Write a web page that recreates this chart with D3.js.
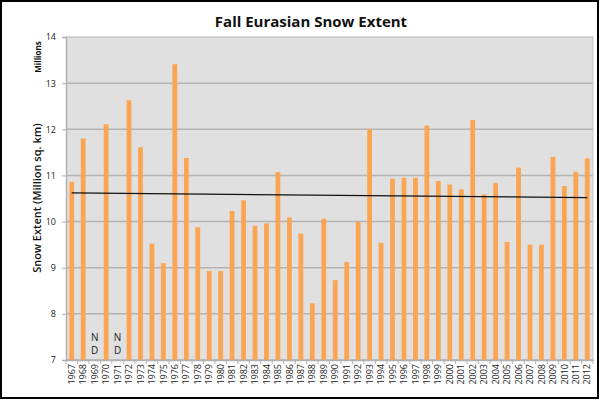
<!DOCTYPE html>
<html><head><meta charset="utf-8">
<script src="https://cdn.jsdelivr.net/npm/d3@7"></script>
<style>body{margin:0;background:#fff;} svg{display:block;}</style>
</head><body>
<svg id="c" width="600" height="400"></svg>
<script>
const years = ["1967","1968","1969","1970","1971","1972","1973","1974","1975","1976","1977","1978","1979","1980","1981","1982","1983","1984","1985","1986","1987","1988","1989","1990","1991","1992","1993","1994","1995","1996","1997","1998","1999","2000","2001","2002","2003","2004","2005","2006","2007","2008","2009","2010","2011","2012"];
const extent = [10.86,11.80,null,12.11,null,12.63,11.61,9.52,9.10,13.41,11.38,9.88,8.93,8.93,10.23,10.46,9.91,9.96,11.07,10.09,9.74,8.23,10.06,8.73,9.12,9.99,12.00,9.54,10.93,10.95,10.95,12.08,10.88,10.80,10.70,12.20,10.59,10.84,9.56,11.17,9.50,9.50,11.40,10.77,11.08,11.37];
const yTicks = [7,8,9,10,11,12,13,14];
const trendYears = ["1967","2012"];
const trendValues = [10.62,10.52];
const noDataLabel = ["N","D"];

const svg = d3.select("#c");
const font = "'Open Sans', 'DejaVu Sans', sans-serif";
const L = 66, R = 593, T = 37, B = 360;

svg.append("rect").attr("x",1).attr("y",1).attr("width",597).attr("height",397)
  .attr("fill","#fff").attr("stroke","#000").attr("stroke-width",2);

const xb = d3.scaleBand().domain(years).range([L,R]);
const y = d3.scaleLinear().domain([7,14]).range([B,T]);

svg.append("rect").attr("x",L).attr("y",T).attr("width",R-L).attr("height",B-T).attr("fill","#e0e0e0");

svg.append("g").selectAll("line").data(yTicks).join("line")
  .attr("x1",L).attr("x2",R).attr("y1",d=>y(d)).attr("y2",d=>y(d))
  .attr("stroke",d=>d===14?"#c8c8c8":"#b4b4b4").attr("stroke-width",1.5);
svg.append("line").attr("x1",R).attr("x2",R).attr("y1",T).attr("y2",B).attr("stroke","#c8c8c8").attr("stroke-width",1);

const yAxis = d3.axisLeft(y).tickValues(yTicks).tickSize(4).tickPadding(6).tickFormat(d3.format("d"));
const gy = svg.append("g").attr("transform",`translate(${L},0)`).call(yAxis);
gy.select(".domain").attr("stroke","#b0b0b0").attr("stroke-width",1.5);
gy.selectAll(".tick line").attr("stroke","#b0b0b0");
gy.selectAll("text").attr("font-family",font).attr("font-size",9).attr("fill","#222");

svg.append("g").selectAll("rect").data(years.map((yr,i)=>({yr,v:extent[i]})).filter(d=>d.v!==null)).join("rect")
  .attr("x",d=>xb(d.yr)+xb.bandwidth()/2-2.4).attr("width",4.8)
  .attr("y",d=>y(d.v)).attr("height",d=>B-y(d.v))
  .attr("fill","#fba553");

const xAxis = d3.axisBottom(xb).tickSize(0).tickPadding(4);
const gx = svg.append("g").attr("transform",`translate(0,${B})`).call(xAxis);
gx.select(".domain").attr("stroke","#b0b0b0").attr("stroke-width",1.5);
gx.selectAll(".tick text").attr("font-family",font).attr("font-size",9).attr("fill","#222")
  .attr("transform","rotate(-90)").attr("text-anchor","end").attr("dy","0.35em").attr("x",-4).attr("y",0);
svg.append("g").selectAll("line").data(years.concat(["end"])).join("line")
  .attr("x1",(d,i)=>L+i*xb.step()).attr("x2",(d,i)=>L+i*xb.step())
  .attr("y1",B).attr("y2",B+4).attr("stroke","#b0b0b0");

years.forEach((yr,i)=>{
  if(extent[i]===null){
    noDataLabel.forEach((t,k)=>{
      svg.append("text").attr("x",xb(yr)+xb.bandwidth()/2).attr("y",y(7.5)+k*13+4)
        .attr("text-anchor","middle").attr("font-family",font).attr("font-size",10).attr("fill","#222").text(t);
    });
  }
});

svg.append("line")
  .attr("x1",xb(trendYears[0])+xb.bandwidth()/2).attr("x2",xb(trendYears[1])+xb.bandwidth()/2)
  .attr("y1",y(trendValues[0])).attr("y2",y(trendValues[1]))
  .attr("stroke","#111").attr("stroke-width",1.2);

svg.append("text").attr("x",311).attr("y",27).attr("text-anchor","middle")
  .attr("font-family",font).attr("font-weight","bold").attr("font-size",15).attr("fill","#111")
  .text("Fall Eurasian Snow Extent");
svg.append("text").attr("transform","translate(41,57) rotate(-90)").attr("text-anchor","middle")
  .attr("font-family",font).attr("font-weight","bold").attr("font-size",8).attr("fill","#111").text("Millions");
svg.append("text").attr("transform","translate(41,198) rotate(-90)").attr("text-anchor","middle")
  .attr("font-family",font).attr("font-weight",600).attr("font-size",11).attr("fill","#111").text("Snow Extent (Million sq. km)");
</script>
</body></html>
